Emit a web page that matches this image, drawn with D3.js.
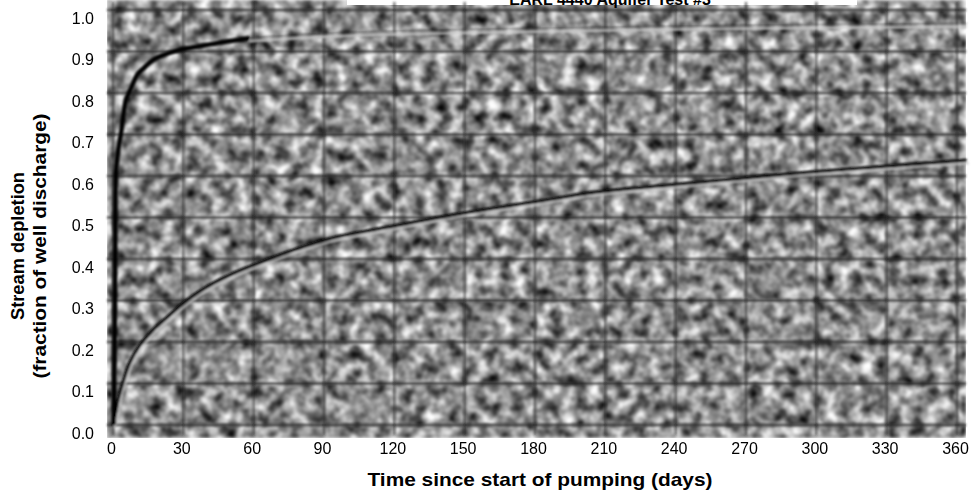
<!DOCTYPE html>
<html>
<head>
<meta charset="utf-8">
<script src="https://cdn.jsdelivr.net/npm/d3@7"></script>
<style>
  body { margin: 0; background: #fff; }
  text { font-family: "Liberation Sans", Arial, sans-serif; }
</style>
</head>
<body>
<div id="chart"></div>
<script>
var svgWidth = 973;
var svgHeight = 496;

// Chart data
var xTicks = [0, 30, 60, 90, 120, 150, 180, 210, 240, 270, 300, 330, 360];
var yTicks = [0.0, 0.1, 0.2, 0.3, 0.4, 0.5, 0.6, 0.7, 0.8, 0.9, 1.0];

// fast-responding curve (dark part)
var upperDays = [1.2, 1.5, 1.8, 2.1, 3, 4.2, 6.3, 8.4, 11.4, 14, 18, 24, 30, 38, 48, 59];
var upperDepl = [0, 0.18, 0.43, 0.61, 0.66, 0.70, 0.78, 0.81, 0.845, 0.86, 0.88, 0.895, 0.905, 0.913, 0.923, 0.932];
// its faint continuation
var upperTailDays = [59, 90, 120, 180, 240, 300, 365];
var upperTailDepl = [0.932, 0.942, 0.948, 0.955, 0.96, 0.964, 0.967];

// slow-responding curve
var lowerDays = [0.8, 2, 3, 5, 8, 12, 18, 24, 30, 40, 52, 66, 80, 94, 122, 151, 180, 207, 240, 270, 291, 330, 365];
var lowerDepl = [0, 0.03, 0.06, 0.10, 0.15, 0.19, 0.23, 0.26, 0.29, 0.33, 0.365, 0.397, 0.426, 0.45, 0.481, 0.511, 0.537, 0.561, 0.579, 0.595, 0.606, 0.623, 0.638];

var titleText = "EARL 4440 Aquifer Test #3";
var xTitle = "Time since start of pumping (days)";
var yTitle = ["Stream depletion", "(fraction of well discharge)"];

var svg = d3.select("#chart")
  .append("svg")
  .attr("width", svgWidth)
  .attr("height", svgHeight);

var xScale = d3.scaleLinear().domain([0, 360]).range([111, 955]);
var yScale = d3.scaleLinear().domain([0, 1]).range([425, 10]);

// scanned-paper texture
var defs = svg.append("defs");
var noise = defs.append("filter")
  .attr("id", "paper")
  .attr("color-interpolation-filters", "sRGB")
  .attr("x", 0).attr("y", 0).attr("width", 1).attr("height", 1);
noise.append("feTurbulence")
  .attr("type", "fractalNoise")
  .attr("baseFrequency", "0.08")
  .attr("numOctaves", 3)
  .attr("seed", 7)
  .attr("result", "t");
noise.append("feColorMatrix")
  .attr("in", "t")
  .attr("type", "matrix")
  .attr("values", "1.5 0 0 0 -0.2  1.5 0 0 0 -0.2  1.5 0 0 0 -0.2  0 0 0 0 1")
  .attr("result", "g");
noise.append("feGaussianBlur")
  .attr("in", "g")
  .attr("stdDeviation", 1.5);

var soft = defs.append("filter").attr("id", "soft");
soft.append("feGaussianBlur").attr("stdDeviation", 0.9);

var plotLeft = xScale(0) - 4;
var plotRight = 966;

svg.append("rect")
  .attr("x", plotLeft)
  .attr("y", 0)
  .attr("width", plotRight - plotLeft)
  .attr("height", yScale(0) + 13)
  .attr("fill", "#8c8c8c")
  .attr("filter", "url(#paper)");

// title box sitting on the top edge
svg.append("rect")
  .attr("x", 347).attr("y", 0)
  .attr("width", 510).attr("height", 5)
  .attr("fill", "#fff");
svg.append("text")
  .attr("x", 610)
  .attr("y", 5)
  .attr("text-anchor", "middle")
  .attr("font-size", "16px")
  .attr("font-weight", "bold")
  .text(titleText);

// grid
var grid = svg.append("g").attr("filter", "url(#soft)");
grid.selectAll("line.h")
  .data(yTicks)
  .enter()
  .append("line")
  .attr("x1", plotLeft)
  .attr("x2", plotRight)
  .attr("y1", d => yScale(d))
  .attr("y2", d => yScale(d))
  .attr("stroke", "#222")
  .attr("stroke-width", 2.6)
  .attr("opacity", 0.75);
grid.selectAll("line.v")
  .data(xTicks)
  .enter()
  .append("line")
  .attr("x1", d => xScale(d) + 2)
  .attr("x2", d => xScale(d) + 2)
  .attr("y1", 2)
  .attr("y2", yScale(0) + 10)
  .attr("stroke", "#222")
  .attr("stroke-width", 2.2)
  .attr("opacity", 0.65);

// curves
var line = d3.line()
  .x(d => xScale(d[0]))
  .y(d => yScale(d[1]))
  .curve(d3.curveCatmullRom.alpha(0.5));

var upper = d3.zip(upperDays, upperDepl);
var upperTail = d3.zip(upperTailDays, upperTailDepl);
var lower = d3.zip(lowerDays, lowerDepl);

var curves = svg.append("g").attr("filter", "url(#soft)");

curves.append("path")
  .attr("d", line(upperTail))
  .attr("fill", "none")
  .attr("stroke", "#c8c8c8")
  .attr("stroke-width", 2.5)
  .attr("opacity", 0.8)
  .attr("transform", "translate(0,3)");
curves.append("path")
  .attr("d", line(upperTail))
  .attr("fill", "none")
  .attr("stroke", "#333")
  .attr("stroke-width", 1.5)
  .attr("opacity", 0.6);

curves.append("path")
  .attr("d", line(lower))
  .attr("fill", "none")
  .attr("stroke", "#c4c4c4")
  .attr("stroke-width", 2.2)
  .attr("opacity", 0.8)
  .attr("transform", "translate(2,3)");
curves.append("path")
  .attr("d", line(lower))
  .attr("fill", "none")
  .attr("stroke", "#0a0a0a")
  .attr("stroke-width", 3.2);

curves.append("path")
  .attr("d", line(upper))
  .attr("fill", "none")
  .attr("stroke", "#050505")
  .attr("stroke-width", 4.5);

// axes
var bottomAxis = d3.axisBottom(xScale)
  .tickValues(xTicks)
  .tickSize(0)
  .tickPadding(18);
var gx = svg.append("g")
  .attr("transform", `translate(0, ${yScale(0)})`)
  .call(bottomAxis);
gx.select(".domain").remove();
gx.selectAll("text")
  .attr("font-size", "16px")
  .attr("font-family", "Liberation Sans, Arial, sans-serif")
  .attr("fill", "#000");

var leftAxis = d3.axisLeft(yScale)
  .tickValues(yTicks)
  .tickFormat(d3.format(".1f"))
  .tickSize(0)
  .tickPadding(17);
var gy = svg.append("g")
  .attr("transform", `translate(${xScale(0)}, 0)`)
  .call(leftAxis);
gy.select(".domain").remove();
gy.selectAll("text")
  .attr("dy", "0.82em")
  .attr("font-size", "16px")
  .attr("font-family", "Liberation Sans, Arial, sans-serif")
  .attr("fill", "#000");

// axis titles
svg.append("text")
  .attr("x", 540)
  .attr("y", 486)
  .attr("text-anchor", "middle")
  .attr("font-size", "19px")
  .attr("font-weight", "bold")
  .attr("textLength", 345)
  .attr("lengthAdjust", "spacingAndGlyphs")
  .text(xTitle);

var yTitleLen = [148, 265];
svg.selectAll("text.ytitle")
  .data(yTitle)
  .enter()
  .append("text")
  .attr("class", "ytitle")
  .attr("transform", (d, i) => `translate(${24 + i * 22}, 246) rotate(-90)`)
  .attr("text-anchor", "middle")
  .attr("font-size", "18px")
  .attr("font-weight", "bold")
  .attr("textLength", (d, i) => yTitleLen[i])
  .attr("lengthAdjust", "spacingAndGlyphs")
  .text(d => d);
</script>
</body>
</html>
